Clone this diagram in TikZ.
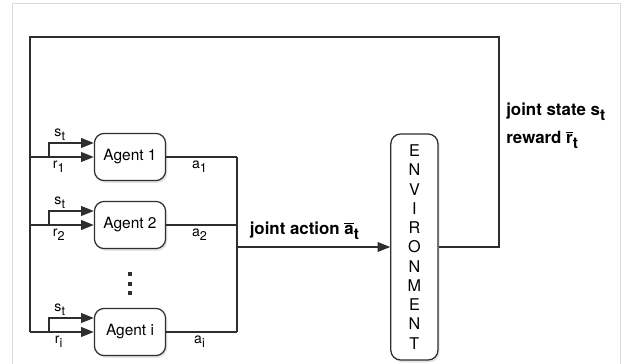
\documentclass[tikz,border=0pt]{standalone}
\usepackage{fontspec}
\setmainfont{TeX Gyre Heros}
\usetikzlibrary{positioning,arrows.meta,calc,shadows}
\definecolor{lineDark}{HTML}{2E2E2E}
\definecolor{frameGray}{HTML}{DADADA}
\tikzset{
    agentbox/.style={draw=lineDark,fill=white,rounded corners=7pt,line width=0.9pt,
        minimum width=1.78cm,minimum height=1.18cm,align=center,
        font=\fontsize{11}{13}\selectfont,
        drop shadow={shadow xshift=1.2pt,shadow yshift=-1.6pt,opacity=0.22}},
    envbox/.style={draw=lineDark,fill=white,rounded corners=7pt,line width=0.9pt,
        minimum width=1.18cm,minimum height=5.65cm,align=center,
        font=\fontsize{11.5}{13.7}\selectfont,
        drop shadow={shadow xshift=1.2pt,shadow yshift=-1.6pt,opacity=0.22}},
    wire/.style={draw=lineDark,line width=0.8pt},
    arrow/.style={wire,-{Triangle[length=9pt,width=7pt]}},
    sublabel/.style={font=\fontsize{10}{12}\selectfont,inner sep=1pt},
    boldlabel/.style={font=\bfseries\fontsize{12}{14}\selectfont,inner sep=0pt}
}
% lowered subscript, nearly full size
\newcommand{\lowsub}[2][9]{\raisebox{-0.55ex}{\fontsize{#1}{#1}\selectfont #2}}

\begin{document}
\begin{tikzpicture}
    \useasboundingbox (0,0) rectangle (15.625,-9.1);
    \draw[frameGray,line width=0.6pt] (0.30,-9.3) -- (0.30,-0.075) -- (15.50,-0.075) -- (15.50,-9.3);

    % agents and environment
    \node[agentbox] (ag1) at (3.25,-3.925) {Agent 1};
    \node[agentbox] (ag2) at (3.25,-5.625) {Agent 2};
    \node[agentbox] (agi) at (3.25,-8.30) {Agent i};
    \node[envbox] (env) at (10.36,-6.175) {E\\N\\V\\I\\R\\O\\N\\M\\E\\N\\T};

    \foreach \y in {-6.80,-7.04,-7.28}
        \fill[lineDark] (3.20,\y) rectangle ++(0.10,-0.10);

    \coordinate (loopL) at (0.75,-0.925);
    \coordinate (loopR) at (12.475,-0.925);
    \coordinate (bus) at (5.925,-6.175);

    % feedback loop
    \draw[wire] (env.east) -- (env.east -| loopR) -- (loopR) -- (loopL) -- (loopL |- agi.west);
    \node[boldlabel,anchor=west] (jstate) at (12.65,-2.80) {joint state s\lowsub[11]{t}};
    \node[boldlabel,anchor=west] (rwd) at (12.65,-3.50) {reward $\overline{\mbox{r}}$\lowsub[11]{t}};

    % inputs of each agent
    \foreach \a/\r in {ag1/1,ag2/2,agi/i}{
        \draw[arrow] (loopL |- \a.west) -- node[sublabel,pos=0.45,below=1.5pt] {r\lowsub{\r}} (\a.west);
        \draw[arrow] ($(loopL |- \a.west)+(0.475,0)$) |- node[sublabel,pos=0.62,above] {s\lowsub{t}} ([yshift=0.35cm]\a.west);
        \draw[wire] (\a.east) -- node[sublabel,pos=0.47,below=1.5pt] {a\lowsub{\r}} (\a.east -| bus);
    }

    % joint action
    \draw[wire] (ag1.east -| bus) -- (agi.east -| bus);
    \draw[arrow] (bus) -- node[boldlabel,pos=0.44,above=5pt] {joint action $\overline{\mbox{a}}$\lowsub[11]{t}} (env.west);
\end{tikzpicture}
\end{document}
